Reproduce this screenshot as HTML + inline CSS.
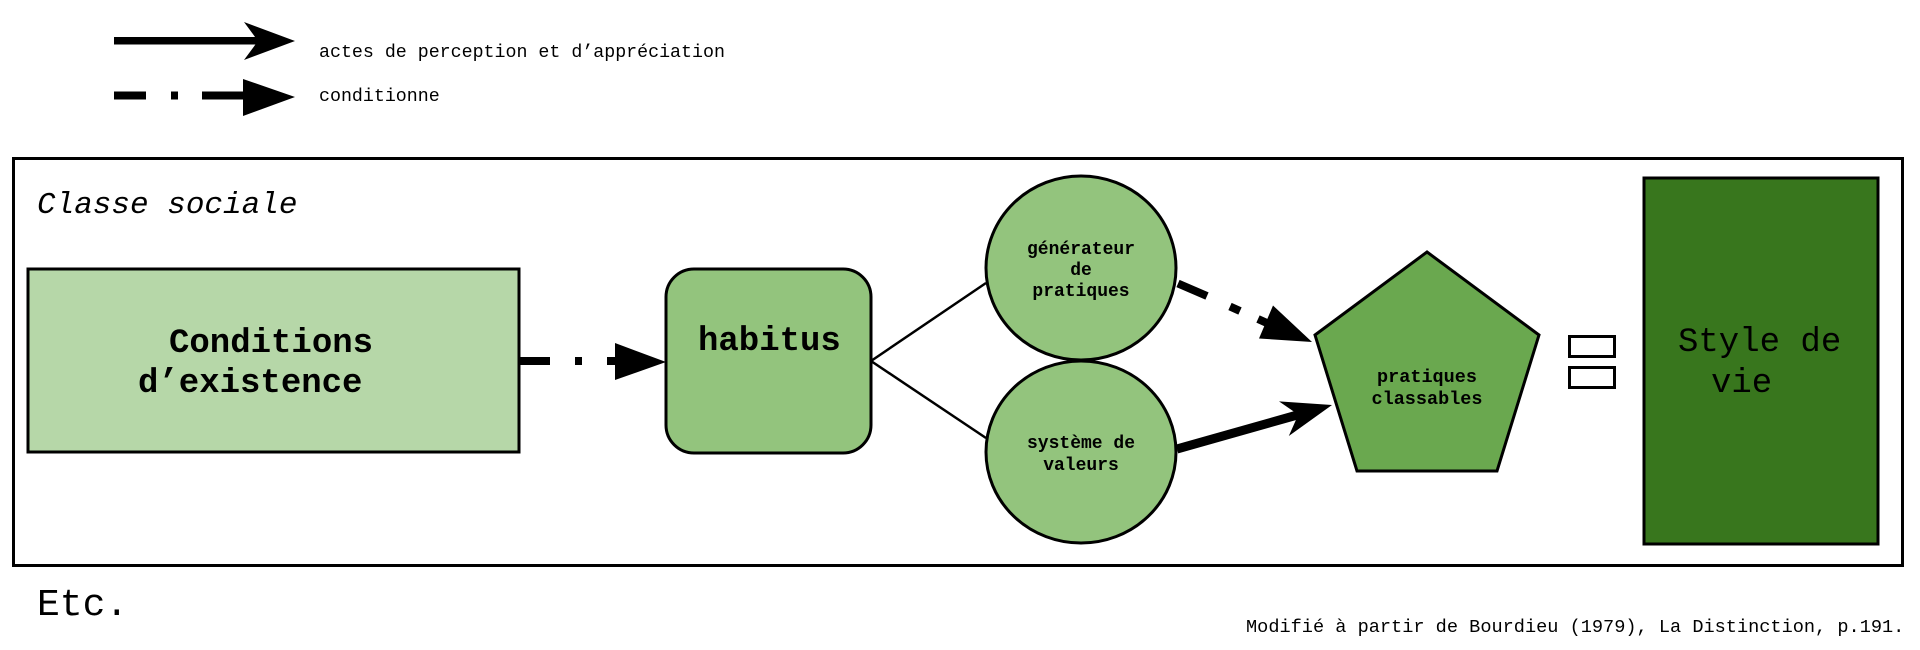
<!DOCTYPE html>
<html>
<head>
<meta charset="utf-8">
<style>
  html,body{margin:0;padding:0;background:#fff;}
  body{width:1920px;height:650px;overflow:hidden;}
  svg{display:block;}
  text{font-family:"Liberation Mono","DejaVu Sans Mono",monospace;fill:#000;}
  .b{font-weight:bold;}
</style>
</head>
<body>
<svg width="1920" height="650" viewBox="0 0 1920 650" xmlns="http://www.w3.org/2000/svg">
  <rect x="0" y="0" width="1920" height="650" fill="#fff"/>

  <!-- Legend: solid arrow -->
  <rect x="114" y="37" width="146" height="7.5" fill="#000"/>
  <polygon points="244,22 295,41 244,60 258,41" fill="#000"/>
  <text x="319" y="57" font-size="18.3">actes de perception et d’appréciation</text>

  <!-- Legend: dashed arrow -->
  <rect x="114" y="91.5" width="32" height="8" fill="#000"/>
  <rect x="171" y="91.5" width="7" height="8" fill="#000"/>
  <rect x="202" y="91.5" width="42" height="8" fill="#000"/>
  <polygon points="243,79 295,97 243,116" fill="#000"/>
  <text x="319" y="101" font-size="18.3">conditionne</text>

  <!-- Outer box -->
  <rect x="13.5" y="158.5" width="1889" height="407" fill="none" stroke="#000" stroke-width="3"/>
  <text x="37" y="213" font-size="31" font-style="italic">Classe sociale</text>

  <!-- Conditions d'existence -->
  <rect x="28" y="269" width="491" height="183" fill="#b6d7a8" stroke="#000" stroke-width="3"/>
  <text x="169" y="352" font-size="34" class="b">Conditions</text>
  <text x="138" y="392" font-size="34" class="b">d’existence</text>

  <!-- Dashed connector to habitus -->
  <rect x="519" y="357" width="31" height="8" fill="#000"/>
  <rect x="575" y="357" width="7" height="8" fill="#000"/>
  <rect x="607" y="357" width="10" height="8" fill="#000"/>
  <polygon points="615,343 666,362 615,380" fill="#000"/>

  <!-- habitus -->
  <rect x="666" y="269" width="205" height="184" rx="28" ry="28" fill="#93c47d" stroke="#000" stroke-width="3"/>
  <text x="698" y="350" font-size="34" class="b">habitus</text>

  <!-- lines habitus -> circles -->
  <line x1="871" y1="361" x2="986" y2="283" stroke="#000" stroke-width="2.5"/>
  <line x1="871" y1="361" x2="986" y2="438" stroke="#000" stroke-width="2.5"/>

  <!-- circles -->
  <ellipse cx="1081" cy="268" rx="95" ry="92" fill="#93c47d" stroke="#000" stroke-width="3"/>
  <ellipse cx="1081" cy="452" rx="95" ry="91" fill="#93c47d" stroke="#000" stroke-width="3"/>
  <text x="1081" y="254" font-size="18" class="b" text-anchor="middle">générateur</text>
  <text x="1081" y="275" font-size="18" class="b" text-anchor="middle">de</text>
  <text x="1081" y="296" font-size="18" class="b" text-anchor="middle">pratiques</text>
  <text x="1081" y="448" font-size="18" class="b" text-anchor="middle">système de</text>
  <text x="1081" y="470" font-size="18" class="b" text-anchor="middle">valeurs</text>

  <!-- dashed arrow top circle -> pentagon -->
  <line x1="1178" y1="283.5" x2="1207" y2="296" stroke="#000" stroke-width="8"/>
  <line x1="1230" y1="306.5" x2="1240" y2="311" stroke="#000" stroke-width="8"/>
  <line x1="1258" y1="319" x2="1268" y2="323.5" stroke="#000" stroke-width="8"/>
  <polygon points="1273,305.5 1312,342 1259,338.5" fill="#000"/>

  <!-- solid arrow bottom circle -> pentagon -->
  <line x1="1177" y1="449" x2="1299" y2="414.5" stroke="#000" stroke-width="9"/>
  <polygon points="1279,401.4 1332,405 1288.8,436 1298.3,414.6" fill="#000"/>

  <!-- pentagon -->
  <polygon points="1427,252 1539,335 1497,471 1357,471 1315,335" fill="#6aa84f" stroke="#000" stroke-width="3" stroke-linejoin="miter"/>
  <text x="1427" y="382" font-size="18.5" class="b" text-anchor="middle">pratiques</text>
  <text x="1427" y="404" font-size="18.5" class="b" text-anchor="middle">classables</text>

  <!-- equals sign -->
  <rect x="1569.5" y="336.5" width="45" height="20" fill="#fff" stroke="#000" stroke-width="3"/>
  <rect x="1569.5" y="367.5" width="45" height="20" fill="#fff" stroke="#000" stroke-width="3"/>

  <!-- Style de vie -->
  <rect x="1644" y="178" width="234" height="366" fill="#38761d" stroke="#000" stroke-width="3"/>
  <text x="1678" y="351" font-size="34">Style de</text>
  <text x="1711" y="392" font-size="34">vie</text>

  <!-- Footer -->
  <text x="37" y="615" font-size="38">Etc.</text>
  <text x="1246" y="632" font-size="18.6">Modifié à partir de Bourdieu (1979), La Distinction, p.191.</text>
</svg>
</body>
</html>
